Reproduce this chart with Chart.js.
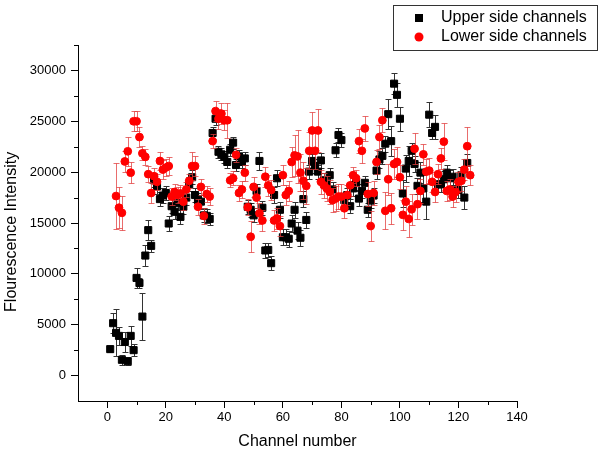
<!DOCTYPE html>
<html>
<head>
<meta charset="utf-8">
<script src="https://cdn.jsdelivr.net/npm/chart.js@4/dist/chart.umd.min.js"></script>
<style>
  html, body { margin: 0; padding: 0; background: #fff; }
  #wrap { width: 604px; height: 460px; }
</style>
</head>
<body>
<div id="wrap"><canvas id="sendChart" width="604" height="460"></canvas></div>
<script>
'use strict';

// channel numbers
const UPPER_CHANNELS = [
  1, 2, 3, 4, 5, 6, 7, 8, 9, 10, 11, 12, 13, 14, 15, 16, 17, 18, 19, 20,
  21, 22, 23, 24, 25, 26, 27, 28, 29, 30, 31, 32, 33, 34, 35, 36, 37, 38, 39, 40,
  41, 42, 43, 44, 45, 46, 47, 48, 49, 50, 51, 52, 53, 54, 55, 56, 57, 58, 59, 60,
  61, 62, 63, 64, 65, 66, 67, 68, 69, 70, 71, 72, 73, 74, 75, 76, 77, 78, 79, 80,
  81, 82, 83, 84, 85, 86, 87, 88, 89, 90, 91, 92, 93, 94, 95, 96, 97, 98, 99, 100,
  101, 102, 103, 104, 105, 106, 107, 108, 109, 110, 111, 112, 113, 114, 115, 116, 117, 118, 119, 120,
  121, 122, 123,
];
const UPPER_VALUES = [
  2600, 5150, 4200, 3900, 1550, 3300, 1400, 3900, 2500, 9600, 9100, 5800, 11800, 14300, 12750, 19200, 18600, 17350, 17700, 17950,
  14950, 16650, 16100, 16950, 15600, 16600, 17500, 18800, 19500, 17750, 17250, 17100, 15750, 15700, 15400, 23850, 25250, 22000, 21750, 21500,
  21000, 22200, 22900, 20700, 21550, 21000, 21350, 16600, 16300, 15750, 18150, 21100, 16500, 12300, 12350, 11050, 17750, 19400, 16300, 13600,
  13600, 13450, 14950, 16300, 14250, 13550, 17350, 15300, 20050, 21100, 20600, 20050, 21150, 19200, 18900, 19700, 18300, 22150, 23650, 23150,
  17250, 17750, 16650, 18400, 18950, 17400, 18150, 18950, 16300, 17200, 17700, 20150, 21250, 21600, 22800, 25700, 23050, 28700, 27600, 25250,
  17900, 20350, 21100, 22100, 20800, 18650, 19950, 18400, 17100, 25650, 23850, 24450, 18800, 18800, 19300, 19950, 19400, 19550, 18250, 18250,
  19700, 17500, 20900,
];
const UPPER_ERRORS = [
  300, 1000, 2300, 900, 500, 1000, 400, 1000, 600, 1000, 500, 2300, 1000, 1000, 600, 700, 700, 700, 700, 700,
  700, 700, 700, 700, 700, 700, 700, 700, 700, 700, 700, 700, 700, 700, 600, 600, 600, 600, 600, 600,
  600, 600, 600, 600, 600, 600, 600, 700, 700, 700, 700, 900, 700, 700, 700, 700, 800, 800, 800, 800,
  800, 800, 800, 800, 800, 800, 800, 800, 700, 700, 700, 700, 700, 700, 700, 700, 700, 700, 700, 700,
  700, 700, 700, 700, 700, 700, 700, 700, 700, 700, 700, 800, 800, 800, 800, 1500, 1500, 1000, 1200, 1200,
  1300, 1300, 1500, 800, 800, 800, 1000, 1300, 1700, 1200, 600, 1200, 800, 800, 800, 800, 800, 800, 800, 800,
  800, 1100, 900,
];

const LOWER_CHANNELS = [
  3, 4, 5, 6, 7, 8, 9, 10, 11, 12, 13, 14, 15, 16, 17, 18, 19, 20,
  21, 22, 23, 24, 25, 26, 27, 28, 29, 30, 31, 32, 33, 34, 35, 36, 37, 38, 39, 40,
  41, 42, 43, 44, 45, 46, 47, 48, 49, 50, 51, 52, 53, 54, 55, 56, 57, 58, 59, 60,
  61, 62, 63, 64, 65, 66, 67, 68, 69, 70, 71, 72, 73, 74, 75, 76, 77, 78, 79, 80,
  81, 82, 83, 84, 85, 86, 87, 88, 89, 90, 91, 92, 93, 94, 95, 96, 97, 98, 99, 100,
  101, 102, 103, 104, 105, 106, 107, 108, 109, 110, 111, 112, 113, 114, 115, 116, 117, 118, 119, 120,
  121, 122, 123, 124,
];
const LOWER_VALUES = [
  17650, 16500, 16000, 21050, 22050, 19950, 25000, 25000, 23450, 21850, 21500, 19800, 17950, 19600, 19050, 21100, 20250, 20450,
  20600, 17600, 18050, 17750, 17900, 17100, 18300, 19150, 20600, 20600, 16600, 18550, 15700, 17850, 17600, 23050, 26000, 25250, 25750, 25100,
  25100, 19200, 19400, 21700, 17950, 18300, 19950, 16550, 13650, 18550, 17500, 15950, 15250, 19550, 18700, 18250, 15250, 15450, 14700, 19700,
  17750, 18150, 21000, 21650, 21550, 19950, 19150, 18650, 22100, 24100, 22100, 24100, 19050, 18700, 18400, 18050, 17250, 17400, 17600, 17600,
  16450, 17750, 18700, 19700, 19400, 23050, 22100, 24300, 17850, 14700, 17950, 21000, 23450, 25100, 16200, 19300, 16450, 20800, 21000, 19500,
  15800, 17100, 15400, 16350, 22300, 16850, 18150, 21750, 20050, 20150, 19050, 18050, 19800, 21350, 23000, 18150, 18300, 17600, 18050, 19050,
  19150, 20250, 22550, 19700,
];
const LOWER_ERRORS = [
  3200, 2000, 1700, 1000, 1400, 1000, 1000, 1000, 1000, 700, 800, 800, 1000, 800, 800, 900, 900, 800,
  900, 800, 800, 800, 800, 800, 700, 700, 1400, 1000, 800, 800, 800, 800, 800, 700, 1000, 1000, 1000, 1000,
  1700, 700, 700, 700, 800, 800, 800, 800, 1500, 1000, 1000, 1000, 1000, 1000, 1000, 1000, 1000, 1000, 1000, 1000,
  1000, 1000, 1500, 2000, 2600, 1800, 1800, 1800, 1800, 1800, 1800, 2100, 1200, 1200, 1200, 1200, 1200, 1200, 1200, 1200,
  1000, 1000, 1000, 800, 800, 1200, 1200, 1200, 1200, 1500, 1200, 1200, 1200, 1200, 1800, 1500, 1500, 1500, 1500, 1200,
  1500, 1500, 1800, 1500, 1500, 1500, 1200, 1000, 1200, 1200, 1000, 1000, 1000, 1000, 1800, 1000, 1000, 1000, 1000, 1000,
  1000, 1000, 1900, 1000,
];

const SERIES_LABELS = ['Upper side channels', 'Lower side channels'];

const X_TICKS = [0, 20, 40, 60, 80, 100, 120, 140];
const X_MINOR_TICKS = [10, 30, 50, 70, 90, 110, 130];
const Y_TICKS = [0, 5000, 10000, 15000, 20000, 25000, 30000];
const Y_MINOR_TICKS = [2500, 7500, 12500, 17500, 22500, 27500, 32500];

const FONT = "'Liberation Sans', Arial, sans-serif";

const toPoints = (xs, ys) => xs.map((x, i) => ({ x, y: ys[i] }));

// error bars go under each dataset's markers, minor ticks + legend box on top
const errorBarPlugin = {
  id: 'errorBars',
  beforeDatasetDraw(chart, args) {
    const ds = chart.data.datasets[args.index];
    if (!ds.errors) return;
    const xScale = chart.scales.x;
    const yScale = chart.scales.y;
    const ctx = chart.ctx;
    ctx.save();
    ctx.strokeStyle = ds.errorColor;
    ctx.lineWidth = 1;
    ctx.beginPath();
    ds.data.forEach((p, i) => {
      const px = Math.round(xScale.getPixelForValue(p.x)) + 0.5;
      const top = Math.round(yScale.getPixelForValue(p.y + ds.errors[i])) + 0.5;
      const bot = Math.round(yScale.getPixelForValue(p.y - ds.errors[i])) + 0.5;
      ctx.moveTo(px, top);
      ctx.lineTo(px, bot);
      ctx.moveTo(px - 3, top);
      ctx.lineTo(px + 3, top);
      ctx.moveTo(px - 3, bot);
      ctx.lineTo(px + 3, bot);
    });
    ctx.stroke();
    ctx.restore();
  },
  afterDraw(chart) {
    const xScale = chart.scales.x;
    const yScale = chart.scales.y;
    const area = chart.chartArea;
    const ctx = chart.ctx;
    ctx.save();
    ctx.strokeStyle = '#000';
    ctx.lineWidth = 1;
    ctx.beginPath();
    X_MINOR_TICKS.forEach((v) => {
      const px = Math.round(xScale.getPixelForValue(v)) + 0.5;
      ctx.moveTo(px, area.bottom);
      ctx.lineTo(px, area.bottom + 4);
    });
    Y_MINOR_TICKS.forEach((v) => {
      const py = Math.round(yScale.getPixelForValue(v)) + 0.5;
      ctx.moveTo(area.left - 4, py);
      ctx.lineTo(area.left, py);
    });
    ctx.stroke();

    // legend box
    ctx.strokeStyle = '#333';
    ctx.strokeRect(393.5, 5.5, 204, 45);
    ctx.fillStyle = '#000';
    ctx.fillRect(415, 14, 8, 8);
    ctx.fillStyle = '#f00';
    ctx.beginPath();
    ctx.arc(419, 37, 4.5, 0, Math.PI * 2);
    ctx.fill();
    ctx.fillStyle = '#000';
    ctx.font = '16px ' + FONT;
    ctx.textBaseline = 'middle';
    ctx.textAlign = 'left';
    ctx.fillText(SERIES_LABELS[0], 441, 18);
    ctx.fillText(SERIES_LABELS[1], 441, 37);
    ctx.restore();
  },
};

const chartConfig = {
  type: 'scatter',
  data: {
    datasets: [
      {
        label: SERIES_LABELS[0],
        data: toPoints(UPPER_CHANNELS, UPPER_VALUES),
        errors: UPPER_ERRORS,
        errorColor: '#333',
        pointStyle: 'rect',
        pointRadius: 5,
        backgroundColor: '#000',
        borderColor: '#000',
        borderWidth: 1,
        order: 1,
      },
      {
        label: SERIES_LABELS[1],
        data: toPoints(LOWER_CHANNELS, LOWER_VALUES),
        errors: LOWER_ERRORS,
        errorColor: 'rgba(225, 60, 60, 0.75)',
        pointStyle: 'circle',
        pointRadius: 3.9,
        backgroundColor: '#f00',
        borderColor: '#f00',
        borderWidth: 1,
        order: 0,
      },
    ],
  },
  options: {
    responsive: false,
    animation: false,
    devicePixelRatio: 1,
    events: [],
    layout: {
      padding: { top: 45, right: 87, bottom: 0, left: 0 },
    },
    plugins: {
      legend: { display: false },
      tooltip: { enabled: false },
    },
    scales: {
      x: {
        type: 'linear',
        min: -10,
        max: 140,
        afterBuildTicks: (scale) => {
          scale.ticks = X_TICKS.map((value) => ({ value }));
        },
        afterFit: (scale) => {
          scale.height = 59;
        },
        grid: {
          drawOnChartArea: false,
          drawTicks: true,
          tickLength: 7,
          color: '#000',
        },
        border: { display: true, color: '#000', width: 1 },
        ticks: {
          autoSkip: false,
          maxRotation: 0,
          padding: 2,
          color: '#000',
          font: { family: FONT, size: 13 },
          callback: (v) => String(v),
        },
        title: {
          display: true,
          text: 'Channel number',
          color: '#000',
          font: { family: FONT, size: 16 },
          padding: { top: 0, bottom: 9 },
        },
      },
      y: {
        type: 'linear',
        min: -2500,
        max: 32500,
        afterBuildTicks: (scale) => {
          scale.ticks = Y_TICKS.map((value) => ({ value }));
        },
        afterFit: (scale) => {
          scale.width = 78;
        },
        grid: {
          drawOnChartArea: false,
          drawTicks: true,
          tickLength: 7,
          color: '#000',
        },
        border: { display: true, color: '#000', width: 1 },
        ticks: {
          autoSkip: false,
          padding: 5,
          color: '#000',
          font: { family: FONT, size: 13 },
          callback: (v) => String(v),
        },
        title: {
          display: true,
          // trailing spaces nudge the rotated title down a little, like the original
          text: 'Flourescence Intensity    ',
          color: '#000',
          font: { family: FONT, size: 16 },
          padding: { top: 2, bottom: 0 },
        },
      },
    },
  },
  plugins: [errorBarPlugin],
};

new Chart(document.getElementById('sendChart'), chartConfig);
</script>
</body>
</html>
